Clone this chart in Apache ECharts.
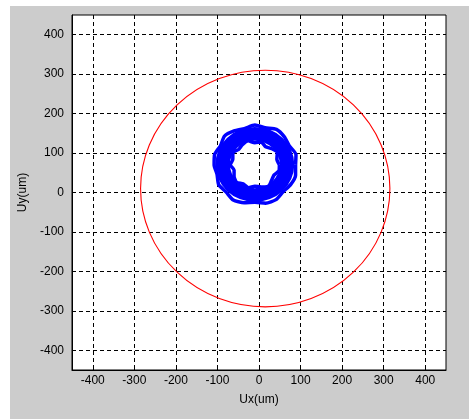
<!DOCTYPE html>
<html>
<head>
<meta charset="utf-8">
<script src="https://cdn.jsdelivr.net/npm/echarts@6/dist/echarts.min.js"></script>
<style>
  html, body { margin: 0; padding: 0; background: #ffffff; }
  #bg { position: absolute; left: 10px; top: 6px; width: 459px; height: 413px; background: #cccccc; }
  #chart { position: absolute; left: 0; top: 0; width: 469px; height: 419px; }
</style>
</head>
<body>
<div id="bg"></div>
<div id="chart"></div>
<script>
// ---- data ----
const xTicks = [-400, -300, -200, -100, 0, 100, 200, 300, 400];
const yTicks = [-400, -300, -200, -100, 0, 100, 200, 300, 400];
const axisMin = -450;
const axisMax = 450;

// red reference circle: [centerX, centerY, radius]
const redCircle = [[15, 10, 300]];

// blue orbit core: [centerX, centerY, innerRadius, outerRadius]
const orbitCore = [[-10, 71, 60, 95]];

// blue orbit trace - outer edge (estimated points)
const orbitOuter = [
  [88, 70], [89, 96], [73, 118], [61, 141], [42, 160], [15, 164], [-10, 171],
  [-35, 162], [-60, 156], [-83, 143], [-93, 118], [-107, 96], [-108, 70],
  [-101, 46], [-97, 20], [-79, 1], [-62, -19], [-36, -26], [-10, -25],
  [16, -27], [41, -18], [58, 2], [76, 20], [88, 44], [88, 70]
];

// blue orbit trace - inner edge (estimated points)
const orbitInner = [
  [49, 70], [43, 84], [44, 101], [31, 111], [16, 116], [5, 128], [-10, 126],
  [-26, 131], [-40, 121], [-49, 109], [-63, 101], [-63, 84], [-69, 70],
  [-60, 57], [-60, 41], [-54, 26], [-38, 22], [-25, 12], [-10, 16],
  [5, 14], [22, 15], [30, 30], [36, 44], [48, 55], [49, 70]
];

const xName = 'Ux(um)';
const yName = 'Uy(um)';

// ---- chart ----
const chart = echarts.init(document.getElementById('chart'), null, { renderer: 'canvas' });
const font = '"Liberation Sans", Arial, sans-serif';

function axisCommon(ticks) {
  return {
    type: 'value',
    min: axisMin,
    max: axisMax,
    axisLine: { show: true, onZero: false, lineStyle: { color: '#000', width: 1 } },
    axisTick: { show: true, inside: true, length: 4, customValues: ticks, lineStyle: { color: '#000' } },
    axisLabel: { customValues: ticks, color: '#000', fontSize: 12, fontFamily: font },
    splitLine: { show: true, lineStyle: { color: '#000', width: 1, type: [4, 3] } },
    nameLocation: 'middle',
    nameTextStyle: { color: '#000', fontSize: 12, fontFamily: font }
  };
}

const xAxis = Object.assign(axisCommon(xTicks), { name: xName, nameGap: 24 });
xAxis.axisLabel.margin = 5;
const yAxis = Object.assign(axisCommon(yTicks), { name: yName, nameGap: 38 });
yAxis.axisLabel.margin = 8;

chart.setOption({
  animation: false,
  backgroundColor: 'transparent',
  grid: {
    left: 72, top: 15, width: 374, height: 355,
    show: true, backgroundColor: '#ffffff', borderColor: '#000', borderWidth: 1
  },
  xAxis: xAxis,
  yAxis: yAxis,
  series: [
    {
      type: 'custom',
      data: redCircle,
      clip: true,
      z: 3,
      renderItem: function (params, api) {
        const c = api.coord([api.value(0), api.value(1)]);
        const s = api.size([api.value(2), api.value(2)]);
        return {
          type: 'circle',
          x: c[0], y: c[1],
          scaleY: s[1] / s[0],
          shape: { cx: 0, cy: 0, r: s[0] },
          style: { fill: 'none', stroke: '#ff0000', lineWidth: 1.1, strokeNoScale: true }
        };
      }
    },
    {
      type: 'custom',
      data: orbitCore,
      clip: true,
      z: 4,
      renderItem: function (params, api) {
        const c = api.coord([api.value(0), api.value(1)]);
        const s0 = api.size([api.value(2), api.value(2)]);
        const s1 = api.size([api.value(3), api.value(3)]);
        return {
          type: 'ring',
          x: c[0], y: c[1],
          scaleY: s1[1] / s1[0],
          shape: { cx: 0, cy: 0, r: s1[0], r0: s0[0] },
          style: { fill: '#0000ff' }
        };
      }
    },
    {
      type: 'line',
      data: orbitOuter,
      showSymbol: false,
      smooth: 0.2,
      z: 5,
      lineStyle: { color: '#0000ff', width: 3.5 }
    },
    {
      type: 'line',
      data: orbitInner,
      showSymbol: false,
      smooth: 0.2,
      z: 5,
      lineStyle: { color: '#0000ff', width: 3.5 }
    }
  ]
});
</script>
</body>
</html>
